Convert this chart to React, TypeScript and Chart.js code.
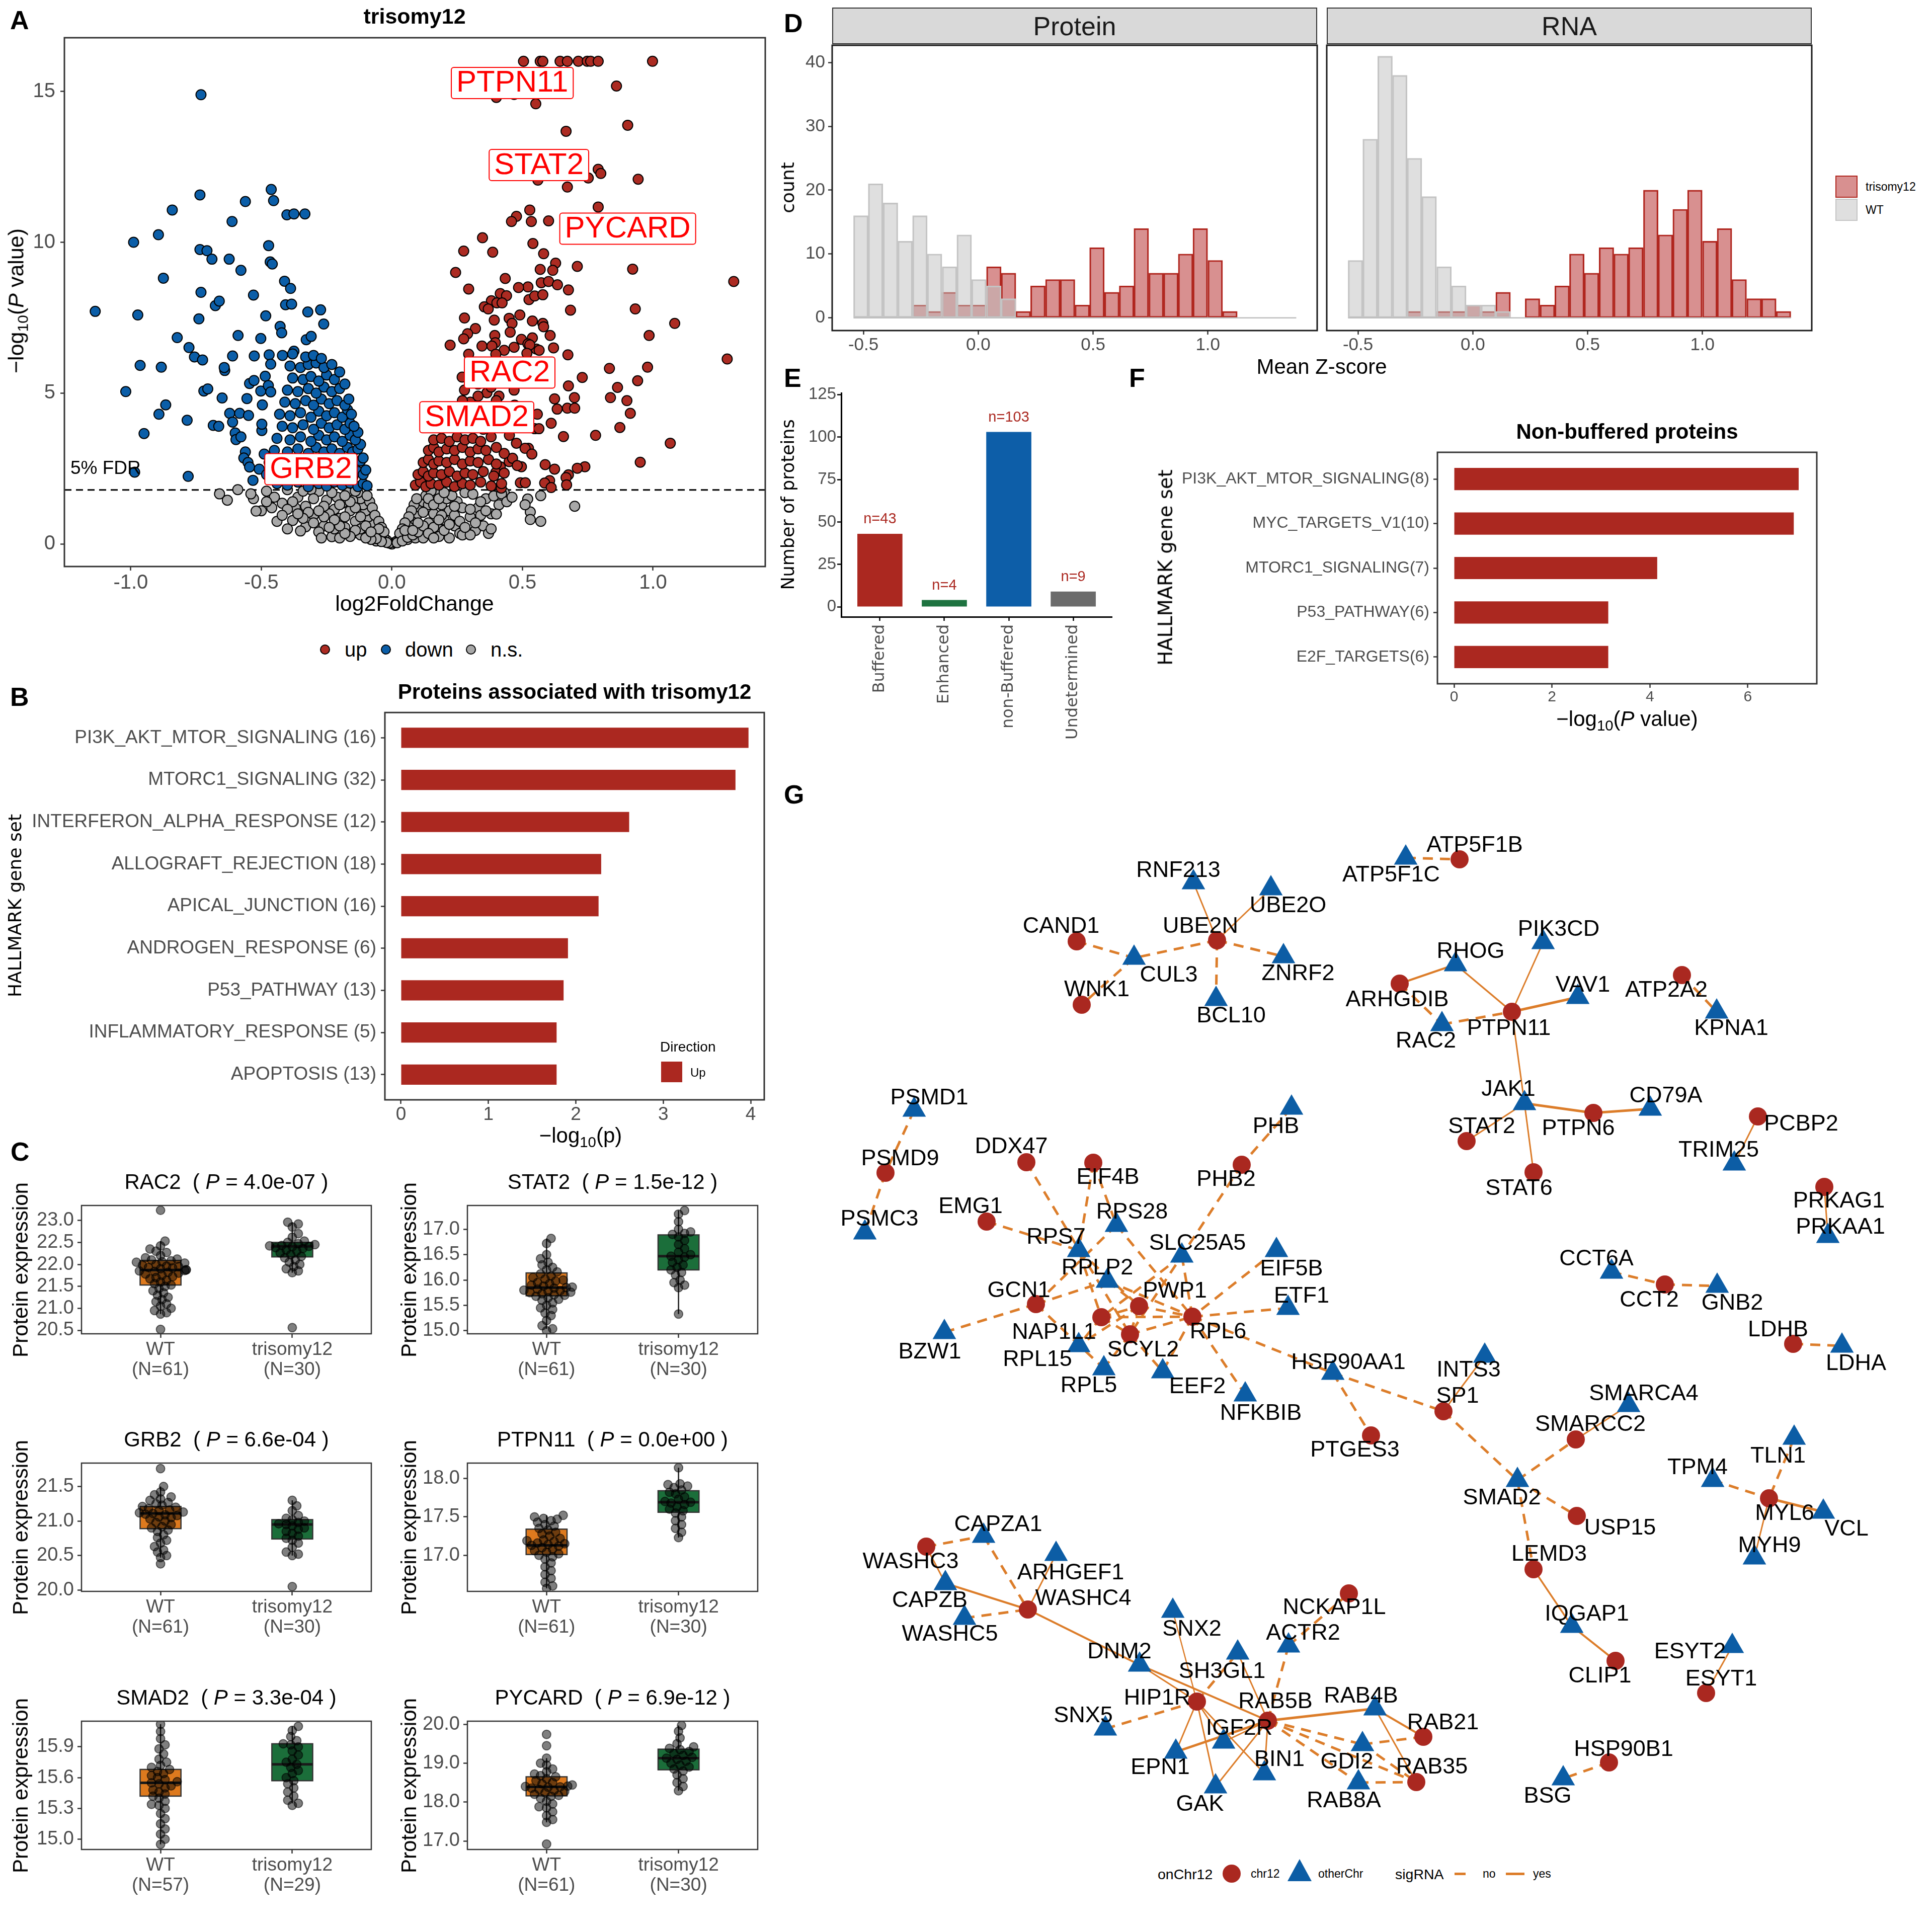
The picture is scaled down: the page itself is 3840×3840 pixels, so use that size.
import React, { useEffect, useRef } from "react";
import { Chart, registerables } from "chart.js";

Chart.register(...registerables);

// ---------------- fonts & colours ----------------
const SANS = "'Liberation Sans', Arial, Helvetica, sans-serif";
const DEJA = "'DejaVu Sans', Verdana, sans-serif";
const C_RED = "#AC2B22";
const C_BLUE = "#0B5EA8";
const C_NS = "#A8A8A8";
const C_BAR = "#AB2820";
const C_NODE_RED = "#AA2820";
const C_NODE_BLUE = "#0C5DA5";
const C_EDGE = "#DC7D2A";
const C_TICK = "#4D4D4D";
const C_FRAME = "#333333";
const C_BOX_WT = "#DE7A1E";
const C_BOX_TRI = "#1B6E3A";

// ---------------- Panel A: volcano data ----------------
const volcanoUp: number[][] = [
  [0.504,16],[0.568,16],[0.578,16],[0.644,16],[0.672,16],[0.714,16],[0.748,16],[0.761,16],[0.79,16],[0.998,16],
  [0.86,15.18],[0.40,14.8],[0.468,14.9],[0.551,14.59],[0.667,13.68],[0.903,13.88],
  [0.79,12.42],[0.80,12.28],[0.752,12.13],[0.559,12.06],[0.943,12.09],[0.672,11.83],[0.79,11.17],
  [0.528,11.07],[0.477,10.86],[0.458,10.69],[0.534,10.69],[0.6,10.71],[0.347,10.15],
  [0.275,9.71],[0.386,9.67],[0.54,9.96],[0.581,9.62],[0.627,9.31],[0.616,9.07],[0.568,9.1],[0.71,9.2],[0.922,9.11],
  [0.244,9.0],[0.434,8.8],[0.572,8.66],[0.6,8.7],[0.634,8.59],[0.676,8.42],[0.521,8.52],[0.485,8.5],
  [0.294,8.45],[0.415,8.3],[0.439,8.23],[1.309,8.7],
  [0.381,8.06],[0.402,7.99],[0.422,7.99],[0.525,8.1],[0.547,8.22],[0.578,8.26],
  [0.354,7.86],[0.369,7.79],[0.684,7.75],[0.932,7.79],
  [0.278,7.49],[0.392,7.42],[0.449,7.48],[0.46,7.31],[0.49,7.59],[0.538,7.39],[0.578,7.31],[0.581,7.2],[1.083,7.31],
  [0.32,7.14],[0.29,6.97],[0.275,6.8],[0.394,6.91],[0.453,7.02],[0.606,6.91],[0.985,6.91],
  [0.396,6.67],[0.496,6.78],[0.538,6.83],[0.521,6.63],[0.468,6.52],
  [0.223,6.59],[0.345,6.56],[0.383,6.56],[0.43,6.42],[0.553,6.46],[0.619,6.5],[0.528,6.6],
  [0.294,6.29],[0.398,6.29],[0.517,6.32],[0.674,6.27],[0.564,6.42],
  [0.833,5.82],[0.979,5.86],[1.284,6.13],[0.729,5.52],[0.676,5.24],[0.941,5.41],
  [0.269,5.53],[0.278,5.1],[0.364,5.01],[0.468,5.1],
  [0.864,5.19],[0.837,4.85],[0.9,4.75],[0.699,4.85],[0.623,4.81],[0.672,4.5],[0.7,4.5],[0.633,4.47],[0.913,4.33],
  [0.557,4.3],[0.547,3.82],[0.563,3.82],[0.61,4.0],
  [0.873,3.86],[0.78,3.6],[0.657,3.56],[1.066,3.34],
  [0.477,3.34],[0.523,3.17],[0.51,3.17],[0.536,2.98],
  [0.951,2.71],[0.739,2.56],[0.71,2.51],[0.587,2.63],[0.623,2.48],[0.496,2.56],[0.449,2.73],[0.462,2.84],[0.415,2.56],[0.398,2.37],
  [0.676,2.29],[0.667,2.2],[0.604,2.1],[0.585,2.02],[0.669,1.96],[0.61,1.87],[0.492,2.03],[0.511,2.03],[0.419,1.85],
  [0.3,5.6],[0.33,5.3],[0.36,5.8],[0.38,5.2],[0.41,4.9],[0.44,5.4],[0.47,4.6],[0.5,4.3],[0.52,3.9],[0.45,3.6],[0.43,3.0],[0.48,2.6],
  [0.09,1.95],[0.11,2.05],[0.13,1.9],[0.15,2.0],[0.18,1.95],[0.21,2.05],[0.24,1.9],[0.27,2.0],[0.3,1.95],[0.34,2.05],[0.38,1.92],[0.42,2.0],
  [0.1,2.3],[0.12,2.4],[0.14,2.25],[0.16,2.35],[0.19,2.3],[0.22,2.4],[0.25,2.25],[0.28,2.35],[0.31,2.3],[0.35,2.4],[0.39,2.25],[0.43,2.35],
  [0.12,2.7],[0.14,2.8],[0.16,2.65],[0.18,2.75],[0.21,2.7],[0.24,2.8],[0.27,2.65],[0.3,2.75],[0.33,2.7],[0.37,2.8],[0.4,2.65],
  [0.14,3.1],[0.16,3.2],[0.18,3.05],[0.21,3.15],[0.24,3.1],[0.27,3.2],[0.3,3.05],[0.33,3.15],[0.36,3.1],[0.4,3.2],
  [0.16,3.45],[0.19,3.5],[0.22,3.4],[0.25,3.55],[0.28,3.45],[0.31,3.5],[0.34,3.4],[0.38,3.55],
  [0.2,3.85],[0.23,3.95],[0.27,3.85],[0.31,3.9],[0.35,3.8],
  [0.22,4.3],[0.26,4.5],[0.3,4.7],[0.35,4.4],[0.4,4.75],[0.42,4.2],[0.27,4.75],[0.33,4.9]
];
const volcanoDown: number[][] = [
  [-0.731,14.89],[-1.136,7.71],[-0.989,10.0],[-0.973,7.59],[-0.964,5.92],[-1.019,5.05],[-0.985,2.38],[-0.949,3.66],
  [-0.894,10.25],[-0.841,11.07],[-0.875,8.81],[-0.883,5.86],[-0.866,4.61],[-0.892,4.3],[-0.822,6.84],[-0.777,6.51],[-0.784,4.1],[-0.78,2.24],
  [-0.735,11.57],[-0.735,9.76],[-0.708,9.72],[-0.689,9.44],[-0.731,8.34],[-0.739,7.46],[-0.756,6.2],[-0.725,6.1],[-0.72,5.07],[-0.705,5.14],
  [-0.676,7.9],[-0.661,8.05],[-0.684,3.93],[-0.663,3.9],[-0.65,4.84],[-0.64,5.75],[-0.642,5.85],
  [-0.623,9.44],[-0.612,10.69],[-0.578,9.07],[-0.589,6.91],[-0.61,6.23],[-0.621,4.33],[-0.61,4.04],[-0.6,3.68],[-0.597,3.46],[-0.578,3.55],[-0.583,4.33],
  [-0.561,11.35],[-0.53,8.25],[-0.527,6.23],[-0.545,5.32],[-0.528,5.42],[-0.555,4.82],[-0.549,4.26],[-0.561,3.05],[-0.567,2.85],[-0.551,2.7],[-0.545,2.55],[-0.532,2.11],[-0.508,2.48],[-0.489,2.98],[-0.498,3.76],[-0.498,3.97],[-0.496,4.61],[-0.502,5.07],
  [-0.502,6.81],[-0.483,7.56],[-0.472,9.89],[-0.462,11.75],[-0.453,11.38],[-0.466,9.35],[-0.458,9.28],[-0.411,8.71],[-0.388,8.47],[-0.407,7.93],[-0.384,7.95],[-0.428,7.21],[-0.422,7.0],[-0.402,10.91],[-0.375,10.94],[-0.333,10.94],
  [-0.322,7.69],[-0.273,7.76],[-0.261,7.29],[-0.328,6.77],[-0.309,6.88],[-0.375,6.39],[-0.419,6.25],[-0.47,6.27],[-0.464,5.96],[-0.485,5.56],[-0.473,5.25],[-0.464,5.04],
  [-0.44,2.0],[-0.4,1.95],[-0.36,2.05],[-0.32,1.9],[-0.28,2.0],[-0.25,1.92],[-0.22,2.05],[-0.19,1.95],[-0.16,2.02],[-0.13,1.9],[-0.11,2.0],[-0.095,1.93],
  [-0.48,2.3],[-0.43,2.25],[-0.39,2.35],[-0.35,2.3],[-0.31,2.2],[-0.27,2.35],[-0.24,2.25],[-0.21,2.4],[-0.18,2.3],[-0.15,2.2],[-0.13,2.4],[-0.11,2.3],[-0.1,2.45],
  [-0.47,2.7],[-0.42,2.65],[-0.37,2.75],[-0.33,2.6],[-0.3,2.8],[-0.26,2.65],[-0.23,2.75],[-0.2,2.6],[-0.17,2.8],[-0.15,2.65],[-0.12,2.75],[-0.11,2.85],
  [-0.45,3.1],[-0.4,3.05],[-0.36,3.15],[-0.32,3.0],[-0.29,3.2],[-0.26,3.05],[-0.23,3.15],[-0.2,3.0],[-0.17,3.2],[-0.15,3.05],[-0.13,3.15],[-0.12,3.3],
  [-0.44,3.5],[-0.39,3.45],[-0.35,3.55],[-0.31,3.4],[-0.28,3.6],[-0.25,3.45],[-0.22,3.55],[-0.19,3.4],[-0.16,3.6],[-0.14,3.45],[-0.13,3.7],
  [-0.42,3.9],[-0.38,3.85],[-0.34,3.95],[-0.3,3.8],[-0.27,4.0],[-0.24,3.85],[-0.21,3.95],[-0.18,3.8],[-0.16,4.0],[-0.145,3.9],
  [-0.43,4.3],[-0.39,4.25],[-0.35,4.35],[-0.31,4.2],[-0.28,4.4],[-0.25,4.25],[-0.22,4.35],[-0.19,4.2],[-0.17,4.45],[-0.155,4.3],
  [-0.41,4.7],[-0.37,4.65],[-0.33,4.75],[-0.3,4.6],[-0.27,4.8],[-0.24,4.65],[-0.21,4.75],[-0.18,4.6],[-0.165,4.8],
  [-0.4,5.1],[-0.36,5.05],[-0.32,5.15],[-0.29,5.0],[-0.26,5.2],[-0.23,5.05],[-0.2,5.15],[-0.18,5.3],
  [-0.38,5.5],[-0.34,5.45],[-0.31,5.55],[-0.28,5.4],[-0.25,5.6],[-0.22,5.45],[-0.2,5.7],
  [-0.39,5.9],[-0.35,5.85],[-0.32,5.95],[-0.29,6.0],[-0.26,5.85],[-0.23,5.95],
  [-0.38,6.3],[-0.33,6.2],[-0.3,6.25],[-0.27,6.15]
];
const volcanoNS: number[][] = [
  [0,0],[0.01,0.05],[-0.01,0.03],[0.02,0.1],[-0.02,0.12],[0.03,0.15],[-0.03,0.2],[0.04,0.25],[-0.04,0.18],[0.05,0.3],[-0.05,0.35],[0.06,0.4],[-0.06,0.28],[0.07,0.55],[-0.07,0.5],[0.08,0.6],[-0.08,0.7],[0.09,0.8],[-0.09,0.9],[0.1,1.0],[-0.1,1.1],[0.11,1.2],[-0.11,1.3],[0.12,1.4],[-0.12,1.5],[0.13,1.6],[-0.13,1.7],[0.085,1.3],[0.095,1.5],[-0.085,1.4],[-0.095,1.6],[0.075,1.1],[-0.075,1.2],[0.065,0.9],[-0.065,0.95],[0.05,0.7],[-0.05,0.75],[0.04,0.5],[-0.04,0.55],[0.03,0.35],[-0.03,0.4],[0.06,0.15],[-0.06,0.1],[0.09,0.2],[-0.09,0.25],
  [0.15,0.3],[0.18,0.5],[0.2,0.8],[0.22,1.1],[0.25,1.4],[0.28,1.7],[0.16,1.0],[0.19,1.3],[0.14,0.7],[0.24,0.6],[0.3,0.9],[0.33,1.2],[0.36,1.5],[0.17,1.65],[0.21,1.5],[0.26,0.35],[0.32,0.45],[0.38,1.0],[0.41,1.3],[0.43,1.7],[0.12,0.2],[0.22,0.2],[0.27,0.3],[0.3,0.3],[0.35,0.6],[0.4,0.99],[0.52,1.49],[0.53,1.06],[0.53,0.81],[0.57,0.75],[0.57,1.6],[0.7,1.25],[0.39,1.59],[0.42,1.66],[0.51,1.3],[0.15,1.75],[0.19,0.95],[0.23,1.6],[0.27,1.2],[0.31,1.65],[0.34,0.95],[0.37,0.35],[0.14,1.3],[0.18,0.25],[0.16,0.55],
  [-0.15,0.35],[-0.18,0.55],[-0.2,0.85],[-0.23,0.24],[-0.22,1.15],[-0.25,1.45],[-0.28,1.75],[-0.16,1.1],[-0.19,1.35],[-0.14,0.75],[-0.26,0.6],[-0.3,0.95],[-0.33,1.25],[-0.36,1.55],[-0.17,1.7],[-0.21,1.55],[-0.28,0.4],[-0.33,0.57],[-0.35,0.43],[-0.38,0.78],[-0.42,1.35],[-0.44,0.75],[-0.46,1.2],[-0.5,1.1],[-0.53,1.5],[-0.54,1.66],[-0.59,1.8],[-0.63,1.45],[-0.66,1.66],[-0.52,1.09],[-0.48,1.75],[-0.4,1.8],[-0.31,1.8],[-0.12,0.3],[-0.2,0.2],[-0.27,0.2],[-0.4,0.5],[-0.24,1.0],[-0.3,1.5],[-0.15,1.45],[-0.18,0.9],[-0.22,0.5],[-0.14,1.75],[-0.26,1.25],[-0.34,1.75],[-0.45,1.55],[-0.37,1.2],
  [-0.02,0.05],[0.02,0.04],[-0.04,0.08],[0.04,0.1],[-0.06,0.18],[0.06,0.22],[-0.08,0.15],[0.08,0.3],[-0.1,0.2],[0.1,0.4],[-0.12,0.5],[0.12,0.6],[-0.14,0.45],[0.14,0.35],[-0.16,0.25],[0.16,0.2],[-0.18,0.35],[0.18,0.8],[-0.2,0.6],[0.2,0.45],[-0.22,0.8],[0.22,0.65],[-0.24,0.55],[0.24,0.95],[-0.26,0.9],[0.26,0.75],[-0.28,1.1],[0.28,0.55],[-0.3,0.7],[0.3,1.15],[-0.32,1.05],[0.32,0.7],[-0.34,0.85],[0.34,1.4],[-0.36,1.0],[0.36,1.1],[-0.38,1.4],[0.38,0.5],[-0.4,1.15],[0.44,1.4],[-0.42,0.95],[0.46,1.55],[-0.48,1.4],[-0.1,0.6],[0.1,0.7],[-0.12,0.9],[0.12,1.05],[-0.14,1.2],[0.14,1.5],[-0.16,1.4],[0.16,1.3],[-0.18,1.6],[0.18,1.5],[-0.2,1.3],[0.2,1.7],[-0.23,1.7],[0.24,1.25],[-0.05,0.5],[0.05,0.45],[-0.08,0.4],[0.08,0.45]
];
const volcanoLabels = ["PTPN11", "STAT2", "PYCARD", "RAC2", "SMAD2", "GRB2"];
const volcanoLabelX = [0.461, 0.563, 0.903, 0.451, 0.325, -0.31];
const volcanoLabelY = [15.28, 12.56, 10.45, 5.68, 4.2, 2.48];
const fdrLine = 1.79;
const volcanoXTicks = [-1, -0.5, 0, 0.5, 1];
const volcanoYTicks = [0, 5, 10, 15];

// ---------------- Panel B ----------------
const hallmarkSets = [
  "PI3K_AKT_MTOR_SIGNALING (16)", "MTORC1_SIGNALING (32)", "INTERFERON_ALPHA_RESPONSE (12)",
  "ALLOGRAFT_REJECTION (18)", "APICAL_JUNCTION (16)", "ANDROGEN_RESPONSE (6)",
  "P53_PATHWAY (13)", "INFLAMMATORY_RESPONSE (5)", "APOPTOSIS (13)"
];
const hallmarkValues = [3.975, 3.826, 2.61, 2.29, 2.26, 1.91, 1.86, 1.78, 1.78];
const hallmarkTicks = [0, 1, 2, 3, 4];

// ---------------- Panel C ----------------
const boxGenes = ["RAC2", "STAT2", "GRB2", "PTPN11", "SMAD2", "PYCARD"];
const boxPText = ["4.0e-07", "1.5e-12", "6.6e-04", "0.0e+00", "3.3e-04", "6.9e-12"];
const boxNWT = [61, 61, 61, 61, 57, 61];
const boxNTri = [30, 30, 30, 30, 29, 30];
// [q1, median, q3, whiskerLow, whiskerHigh]
const boxStatsWT = [
  [21.53, 21.87, 22.09, 20.87, 22.53], [15.69, 15.85, 16.14, 15.04, 16.82], [20.89, 21.11, 21.21, 20.47, 21.5],
  [17.01, 17.13, 17.34, 16.57, 17.52], [15.42, 15.55, 15.68, 14.95, 16.12], [18.16, 18.39, 18.65, 17.48, 19.13]
];
const boxStatsTri = [
  [22.17, 22.41, 22.5, 21.81, 22.96], [16.2, 16.47, 16.89, 15.33, 17.37], [20.74, 20.95, 21.02, 20.5, 21.3],
  [17.56, 17.69, 17.84, 17.23, 18.14], [15.57, 15.73, 15.93, 15.35, 16.1], [18.83, 19.13, 19.36, 18.29, 19.97]
];
const boxPointsWT = [
  [23.23,22.53,22.42,22.35,22.3,22.27,22.2,22.15,22.12,22.1,22.08,22.06,22.05,22.03,22.0,21.98,21.96,21.95,21.93,21.92,21.9,21.88,21.87,21.86,21.85,21.84,21.82,21.8,21.78,21.75,21.72,21.7,21.67,21.64,21.6,21.56,21.53,21.5,21.45,21.4,21.35,21.3,21.25,21.2,21.15,21.1,21.05,21.0,20.95,20.9,20.87,20.52],
  [16.82,16.72,16.5,16.42,16.35,16.3,16.25,16.2,16.16,16.12,16.08,16.05,16.02,16.0,15.98,15.95,15.93,15.9,15.88,15.86,15.85,15.84,15.82,15.8,15.79,15.78,15.76,15.75,15.73,15.71,15.7,15.68,15.65,15.62,15.6,15.55,15.5,15.45,15.42,15.35,15.3,15.2,15.1,15.04,15.0],
  [21.76,21.5,21.42,21.38,21.35,21.32,21.3,21.27,21.25,21.23,21.21,21.2,21.18,21.16,21.15,21.13,21.12,21.11,21.1,21.09,21.08,21.06,21.05,21.03,21.0,20.98,20.95,20.92,20.9,20.87,20.85,20.8,20.76,20.72,20.68,20.63,20.58,20.55,20.5,20.47,20.38],
  [17.52,17.5,17.48,17.47,17.45,17.43,17.4,17.38,17.35,17.33,17.3,17.28,17.25,17.22,17.2,17.19,17.18,17.16,17.15,17.14,17.13,17.12,17.1,17.08,17.06,17.04,17.02,17.0,16.98,16.95,16.9,16.85,16.8,16.75,16.7,16.65,16.6,16.57],
  [16.12,16.05,15.98,15.92,15.88,15.83,15.78,15.75,15.72,15.7,15.68,15.66,15.64,15.62,15.6,15.58,15.56,15.55,15.54,15.52,15.5,15.48,15.46,15.44,15.42,15.4,15.37,15.34,15.33,15.3,15.25,15.2,15.15,15.1,15.05,15.0,14.95],
  [19.74,19.45,19.13,19.0,18.95,18.85,18.78,18.72,18.68,18.65,18.6,18.55,18.5,18.47,18.44,18.41,18.4,18.39,18.38,18.36,18.33,18.3,18.27,18.24,18.2,18.17,18.15,18.1,18.02,17.95,17.88,17.85,17.75,17.65,17.55,17.48,16.92]
];
const boxPointsTri = [
  [22.96,22.92,22.85,22.7,22.62,22.53,22.5,22.47,22.45,22.43,22.42,22.41,22.4,22.38,22.36,22.33,22.3,22.26,22.22,22.18,22.15,22.1,22.05,22.0,21.95,21.9,21.85,21.81,20.56],
  [17.37,17.3,17.15,17.0,16.95,16.92,16.9,16.85,16.78,16.7,16.62,16.55,16.5,16.47,16.45,16.4,16.35,16.3,16.25,16.2,16.15,16.1,16.0,15.95,15.9,15.85,15.33],
  [21.3,21.22,21.15,21.08,21.04,21.02,21.0,20.98,20.96,20.95,20.93,20.9,20.88,20.85,20.82,20.78,20.75,20.72,20.68,20.62,20.55,20.52,20.5,20.05],
  [18.14,17.93,17.92,17.9,17.88,17.85,17.82,17.8,17.76,17.73,17.7,17.69,17.68,17.66,17.63,17.6,17.58,17.55,17.5,17.45,17.4,17.35,17.3,17.23],
  [16.1,16.06,16.0,15.96,15.93,15.92,15.9,15.86,15.82,15.78,15.75,15.73,15.7,15.67,15.64,15.6,15.57,15.54,15.5,15.46,15.42,15.38,15.35,15.33],
  [19.97,19.82,19.65,19.5,19.42,19.38,19.35,19.3,19.25,19.2,19.15,19.13,19.1,19.05,19.0,18.95,18.9,18.85,18.8,18.7,18.6,18.5,18.4,18.29]
];
const boxYLimits = [[20.42, 23.34], [14.94, 17.47], [19.98, 21.84], [16.53, 18.2], [14.9, 16.15], [16.78, 20.08]];
const boxYTicks = [
  [20.5, 21, 21.5, 22, 22.5, 23], [15, 15.5, 16, 16.5, 17], [20, 20.5, 21, 21.5],
  [17, 17.5, 18], [15, 15.3, 15.6, 15.9], [17, 18, 19, 20]
];

// ---------------- Panel D ----------------
const binCenters = [-0.511,-0.447,-0.382,-0.318,-0.254,-0.190,-0.125,-0.061,0.003,0.068,0.132,0.196,0.260,0.325,0.389,0.453,0.517,0.582,0.646,0.710,0.775,0.839,0.903,0.967,1.032,1.096,1.160,1.225,1.289,1.353];
const protWT = [16,21,18,12,16,10,8,13,6,5,3,0,0,0,0,0,0,0,0,0,0,0,0,0,0,0,0,0,0,0];
const protTri = [0,0,0,0,2,1,4,2,2,8,7,1,5,6,6,2,11,4,5,14,7,7,10,14,9,1,0,0,0,0];
const rnaWT = [9,28,41,38,25,19,8,5,2,2,1,0,0,0,0,0,0,0,0,0,0,0,0,0,0,0,0,0,0,0];
const rnaTri = [0,0,0,0,1,0,1,1,2,1,4,0,3,2,5,10,7,11,10,11,20,13,17,20,12,14,6,3,3,1];
const histXTicks = [-0.5, 0, 0.5, 1];
const histYTicks = [0, 10, 20, 30, 40];

// ---------------- Panel E ----------------
const bufferCats = ["Buffered", "Enhanced", "non-Buffered", "Undetermined"];
const bufferCounts = [43, 4, 103, 9];
const bufferColors = ["#AB2820", "#1E7340", "#0D5EA8", "#6B6B6B"];
const bufferTicks = [0, 25, 50, 75, 100, 125];

// ---------------- Panel F ----------------
const nbSets = ["PI3K_AKT_MTOR_SIGNALING(8)", "MYC_TARGETS_V1(10)", "MTORC1_SIGNALING(7)", "P53_PATHWAY(6)", "E2F_TARGETS(6)"];
const nbValues = [7.04, 6.94, 4.15, 3.15, 3.15];
const nbTicks = [0, 2, 4, 6];

// ---------------- Panel G: network (layout coordinates, chr12 flag) ----------------
const netNodes: any[] = [
  ["ATP5F1C",0,2794,1705,2765,1740],["ATP5F1B",1,2901,1708,2931,1681],["RNF213",0,2372,1754,2342,1731],
  ["UBE2O",0,2526,1766,2560,1801],["UBE2N",1,2419,1869,2386,1842],["CAND1",1,2140,1871,2109,1842],
  ["CUL3",0,2254,1904,2323,1939],["ZNRF2",0,2551,1901,2580,1936],["WNK1",1,2150,1997,2180,1968],
  ["BCL10",0,2417,1986,2447,2020],["PIK3CD",0,3067,1873,3098,1848],["RHOG",0,2893,1917,2923,1892],
  ["ARHGDIB",1,2782,1955,2777,1988],["VAV1",0,3136,1982,3146,1959],["PTPN11",1,3005,2011,2999,2045],
  ["RAC2",0,2866,2036,2834,2070],["ATP2A2",1,3343,1938,3312,1969],["KPNA1",0,3412,2011,3441,2045],
  ["JAK1",0,3030,2193,2998,2166],["STAT2",1,2915,2268,2945,2240],["PTPN6",1,3167,2212,3137,2244],
  ["CD79A",0,3280,2204,3311,2179],["STAT6",1,3048,2330,3019,2363],["PCBP2",1,3494,2219,3580,2235],
  ["TRIM25",0,3447,2313,3416,2287],["PRKAG1",1,3626,2359,3655,2388],["PRKAA1",0,3633,2457,3658,2440],
  ["CCT6A",0,3203,2528,3173,2503],["CCT2",1,3309,2553,3278,2585],["GNB2",0,3413,2556,3443,2591],
  ["LDHB",1,3564,2671,3534,2644],["LDHA",0,3661,2675,3689,2711],["PSMD1",0,1817,2206,1847,2183],
  ["PSMD9",1,1760,2331,1789,2304],["PSMC3",0,1719,2450,1748,2424],["DDX47",1,2040,2310,2010,2280],
  ["EIF4B",1,2173,2311,2202,2341],["PHB",0,2567,2202,2536,2240],["PHB2",1,2468,2315,2437,2345],
  ["EMG1",1,1961,2428,1929,2399],["RPS28",0,2219,2435,2250,2410],["RPS7",0,2144,2485,2099,2460],
  ["SLC25A5",0,2349,2496,2380,2472],["RPLP2",0,2201,2546,2181,2521],["EIF5B",0,2537,2485,2567,2523],
  ["GCN1",1,2059,2592,2025,2566],["PWP1",1,2264,2596,2335,2567],["ETF1",0,2560,2600,2587,2577],
  ["NAP1L1",1,2189,2618,2095,2649],["RPL6",1,2370,2617,2421,2648],["SCYL2",1,2246,2652,2272,2684],
  ["BZW1",0,1877,2648,1848,2688],["RPL15",0,2144,2674,2062,2703],["RPL5",0,2194,2720,2164,2755],
  ["EEF2",0,2311,2726,2380,2757],["NFKBIB",0,2475,2772,2506,2810],["HSP90AA1",0,2649,2729,2680,2709],
  ["INTS3",0,2951,2695,2919,2724],["SP1",1,2869,2805,2897,2776],["PTGES3",1,2725,2853,2693,2883],
  ["SMARCA4",0,3237,2793,3267,2771],["SMARCC2",1,3132,2861,3161,2832],["SMAD2",0,3016,2942,2985,2978],
  ["USP15",1,3134,3013,3220,3038],["LEMD3",1,3048,3119,3079,3090],["IQGAP1",0,3124,3232,3154,3209],
  ["CLIP1",1,3211,3301,3180,3332],["TLN1",0,3566,2858,3534,2895],["TPM4",0,3404,2942,3374,2918],
  ["MYL6",1,3516,2978,3547,3009],["VCL",0,3624,3005,3670,3040],["MYH9",0,3487,3096,3517,3073],
  ["ESYT2",0,3443,3272,3359,3284],["ESYT1",1,3391,3365,3421,3338],["HSP90B1",1,3198,3503,3227,3478],
  ["BSG",0,3107,3535,3076,3571],["CAPZA1",0,1955,3053,1984,3031],["WASHC3",1,1841,3074,1810,3105],
  ["ARHGEF1",0,2099,3089,2128,3127],["CAPZB",0,1879,3147,1848,3182],["WASHC4",1,2043,3199,2153,3178],
  ["WASHC5",0,1917,3216,1888,3249],["DNM2",0,2265,3309,2225,3284],["SNX2",0,2331,3202,2369,3239],
  ["ACTR2",0,2561,3271,2590,3247],["NCKAP1L",1,2681,3167,2652,3196],["SH3GL1",0,2460,3285,2429,3323],
  ["HIP1R",1,2379,3382,2300,3376],["RAB5B",1,2520,3420,2535,3383],["RAB4B",0,2733,3396,2705,3372],
  ["SNX5",0,2197,3436,2153,3411],["IGF2R",0,2432,3462,2463,3436],["RAB21",1,2829,3452,2868,3425],
  ["GDI2",0,2708,3467,2677,3503],["EPN1",0,2337,3482,2306,3514],["BIN1",0,2513,3525,2543,3498],
  ["RAB35",1,2815,3542,2846,3513],["RAB8A",0,2700,3543,2671,3580],["GAK",0,2416,3551,2385,3587]
];
// [from, to, sigRNA (1 = yes), strength]
const netEdges: any[] = [
  ["RNF213","UBE2N",1,3],["UBE2O","UBE2N",1,3],["UBE2N","CUL3",0,5],["CAND1","CUL3",0,5],["UBE2N","ZNRF2",0,5],
  ["UBE2N","BCL10",0,5],["CUL3","WNK1",0,5],["ATP5F1C","ATP5F1B",0,6],
  ["RHOG","PTPN11",1,3.5],["ARHGDIB","RHOG",1,4],["PIK3CD","PTPN11",1,3],["VAV1","PTPN11",1,5],["RAC2","PTPN11",0,5],
  ["ARHGDIB","RAC2",0,5],["PTPN11","JAK1",1,3],["ATP2A2","KPNA1",0,5],["JAK1","STAT2",1,3],["JAK1","PTPN6",1,5],
  ["PTPN6","CD79A",1,5],["JAK1","STAT6",1,3],["PCBP2","TRIM25",1,3],["PRKAG1","PRKAA1",1,3],["CCT6A","CCT2",0,5],
  ["CCT2","GNB2",0,5],["LDHB","LDHA",0,6],["PSMD1","PSMD9",0,5],["PSMD9","PSMC3",0,5],["PHB","PHB2",0,5],
  ["DDX47","SCYL2",0,5],["EIF4B","RPS7",0,5],["EIF4B","RPS28",0,5],["PHB2","SCYL2",0,5],["EMG1","RPS7",0,5],
  ["RPS7","PWP1",0,5],["RPS28","RPL6",0,5],["RPS28","GCN1",0,5],["SLC25A5","NAP1L1",0,5],["SLC25A5","RPL6",0,5],
  ["EIF5B","RPL6",0,5],["ETF1","RPL6",0,5],["RPL6","HSP90AA1",0,5],["RPL6","NFKBIB",0,5],["RPL6","EEF2",0,5],
  ["GCN1","BZW1",0,5],["GCN1","RPLP2",0,5],["GCN1","RPL5",0,5],["RPLP2","PWP1",0,5],["RPLP2","RPL6",0,5],
  ["NAP1L1","PWP1",0,5],["NAP1L1","RPL6",0,5],["NAP1L1","SCYL2",0,5],["PWP1","SCYL2",0,5],["PWP1","RPL6",0,5],
  ["SCYL2","RPL6",0,5],["NAP1L1","RPL15",0,5],["SCYL2","RPL5",0,5],["SCYL2","EEF2",0,5],["PWP1","RPL15",0,5],
  ["RPS7","NAP1L1",0,5],["HSP90AA1","SP1",0,5],["HSP90AA1","PTGES3",0,5],["INTS3","SP1",1,3],["SP1","SMAD2",0,5],
  ["SMAD2","SMARCC2",0,5],["SMARCC2","SMARCA4",1,3],["SMAD2","USP15",0,5],["SMAD2","LEMD3",0,5],["LEMD3","IQGAP1",1,3.5],
  ["IQGAP1","CLIP1",1,4],["TPM4","MYL6",0,5],["TLN1","MYL6",0,5],["MYL6","VCL",1,5],["MYL6","MYH9",1,3],
  ["ESYT2","ESYT1",1,3],["HSP90B1","BSG",0,6],["WASHC3","CAPZA1",0,5],["WASHC3","CAPZB",1,3],["CAPZA1","WASHC4",0,5],
  ["ARHGEF1","WASHC4",1,3],["CAPZB","WASHC4",1,4],["WASHC5","WASHC4",0,6],["WASHC4","DNM2",1,4],["DNM2","RAB5B",1,4],
  ["DNM2","HIP1R",1,3],["HIP1R","SNX2",1,2.5],["HIP1R","SH3GL1",0,5],["HIP1R","SNX5",0,5],["HIP1R","EPN1",1,3],
  ["HIP1R","GAK",1,3],["HIP1R","BIN1",1,3],["HIP1R","IGF2R",1,3],["RAB5B","SH3GL1",1,3],["RAB5B","ACTR2",0,5],
  ["ACTR2","NCKAP1L",0,5],["RAB5B","RAB4B",1,5],["RAB5B","EPN1",1,4.5],["RAB5B","GAK",1,3],["RAB5B","BIN1",1,3],
  ["RAB5B","GDI2",0,5],["RAB5B","RAB35",0,5],["RAB5B","RAB8A",0,5],["RAB4B","RAB21",1,4],["RAB4B","RAB35",1,3],
  ["GDI2","RAB21",0,5],["RAB8A","RAB35",0,5],["GDI2","RAB35",0,5],["RAB5B","IGF2R",1,3]
];

// ---------------- layout (page pixels) ----------------
type Box = { x: number; y: number; w: number; h: number };
type Mar = { l: number; t: number; r: number; b: number };
const canvasOf = (p: Box, m: Mar): Box => ({ x: p.x - m.l, y: p.y - m.t, w: p.w + m.l + m.r, h: p.h + m.t + m.b });

const PLOT_A: Box = { x: 128, y: 71, w: 1393, h: 1055 };
const MAR_A: Mar = { l: 110, t: 30, r: 30, b: 70 };
const PLOT_B: Box = { x: 765, y: 1415, w: 754, h: 771 };
const MAR_B: Mar = { l: 760, t: 30, r: 30, b: 60 };
const PLOT_C: Box[] = [
  { x: 162, y: 2396, w: 576, h: 255 }, { x: 929, y: 2396, w: 577, h: 255 },
  { x: 162, y: 2908, w: 576, h: 255 }, { x: 929, y: 2908, w: 577, h: 255 },
  { x: 162, y: 3421, w: 576, h: 255 }, { x: 929, y: 3421, w: 577, h: 255 }
];
const MAR_C: Mar = { l: 125, t: 30, r: 30, b: 100 };
const PLOT_D1: Box = { x: 1654, y: 90, w: 964, h: 567 };
const MAR_D1: Mar = { l: 95, t: 30, r: 15, b: 60 };
const PLOT_D2: Box = { x: 2637, y: 90, w: 964, h: 567 };
const MAR_D2: Mar = { l: 15, t: 30, r: 30, b: 60 };
const PLOT_E: Box = { x: 1672, y: 781, w: 538, h: 445 };
const MAR_E: Mar = { l: 100, t: 30, r: 30, b: 260 };
const PLOT_F: Box = { x: 2857, y: 899, w: 754, h: 460 };
const MAR_F: Mar = { l: 560, t: 30, r: 30, b: 60 };
const BOX_G: Box = { x: 1560, y: 1620, w: 2250, h: 2040 };

// ---------------- chart helpers ----------------
function baseOptions(padding: any) {
  return {
    responsive: false,
    animation: false,
    events: [],
    layout: { padding, autoPadding: false },
    plugins: { legend: { display: false }, tooltip: { enabled: false }, title: { display: false } },
  };
}

function linAxis(o: any) {
  const shown = o.show !== false;
  return {
    type: "linear",
    display: shown,
    min: o.min,
    max: o.max,
    reverse: !!o.reverse,
    bounds: "data",
    offset: false,
    afterBuildTicks: (s: any) => { s.ticks = o.ticks.map((v: number) => ({ value: v })); },
    afterFit: (s: any) => {
      if (!shown) return;
      if (o.horizontal) s.height = o.fit; else s.width = o.fit;
    },
    grid: {
      display: true, drawOnChartArea: false, drawTicks: true, offset: false,
      tickLength: 8, tickWidth: 2.5, tickColor: o.tickColor || "#333333", color: "rgba(0,0,0,0)",
    },
    border: o.border ? { display: true, color: o.border.color, width: o.border.width } : { display: false },
    ticks: {
      autoSkip: false,
      padding: o.pad,
      color: o.color || C_TICK,
      font: { family: o.family || SANS, size: o.size, lineHeight: o.lineHeight || 1.2 },
      callback: (v: number) => o.fmt(v),
      minRotation: o.rotate ? 90 : 0,
      maxRotation: o.rotate ? 90 : 0,
    },
  };
}

const framePlugin = (color: string, width: number) => ({
  id: "frame",
  afterDraw(chart: any) {
    const { ctx, chartArea: a } = chart;
    ctx.save();
    ctx.strokeStyle = color;
    ctx.lineWidth = width;
    ctx.strokeRect(a.left, a.top, a.right - a.left, a.bottom - a.top);
    ctx.restore();
  },
});

function ChartCanvas({ box, make }: { box: Box; make: () => any }) {
  const ref = useRef<HTMLCanvasElement>(null);
  useEffect(() => {
    const chart = new Chart(ref.current as HTMLCanvasElement, make());
    return () => chart.destroy();
  }, []);
  return (
    <canvas
      ref={ref}
      width={box.w}
      height={box.h}
      style={{ position: "absolute", left: box.x, top: box.y, width: box.w, height: box.h }}
    />
  );
}

// ---------------- text helpers ----------------
function Txt(props: any) {
  const { x, y, size, anchor = "start", weight = 400, color = "#000", family = SANS, rotate = false, children } = props;
  const base: React.CSSProperties = {
    position: "absolute", fontSize: size, lineHeight: `${size}px`, fontFamily: family,
    fontWeight: weight, color, whiteSpace: "nowrap",
  };
  if (rotate) {
    return <div style={{ ...base, left: x, top: y, transform: "translate(-50%,-50%) rotate(-90deg)" }}>{children}</div>;
  }
  const tx = anchor === "middle" ? "translateX(-50%)" : anchor === "end" ? "translateX(-100%)" : "none";
  return <div style={{ ...base, left: x, top: y - 0.846 * size, transform: tx }}>{children}</div>;
}
const Sub = ({ children }: any) => (
  <span style={{ fontSize: "0.7em", position: "relative", top: "0.3em" }}>{children}</span>
);

// ---------------- Panel A ----------------
const scatterDs = (pts: number[][], color: string) => ({
  data: pts.map((p) => ({ x: p[0], y: p[1] })),
  pointRadius: 10, pointHoverRadius: 10,
  pointBackgroundColor: color, pointBorderColor: "#000000", pointBorderWidth: 2,
});

const volcanoPlugin = {
  id: "volcanoExtras",
  beforeDatasetsDraw(chart: any) {
    const { ctx, chartArea: a, scales } = chart;
    const py = scales.y.getPixelForValue(fdrLine);
    ctx.save();
    ctx.strokeStyle = "#000";
    ctx.lineWidth = 3;
    ctx.setLineDash([14, 9]);
    ctx.beginPath();
    ctx.moveTo(a.left, py);
    ctx.lineTo(a.right, py);
    ctx.stroke();
    ctx.restore();
  },
  afterDatasetsDraw(chart: any) {
    const { ctx, scales } = chart;
    ctx.save();
    ctx.font = `60px ${SANS}`;
    ctx.textAlign = "center";
    ctx.textBaseline = "middle";
    volcanoLabels.forEach((t, i) => {
      const cx = scales.x.getPixelForValue(volcanoLabelX[i]);
      const cy = scales.y.getPixelForValue(volcanoLabelY[i]);
      const w = ctx.measureText(t).width + 20;
      const h = 62;
      ctx.beginPath();
      ctx.roundRect(cx - w / 2, cy - h / 2, w, h, 5);
      ctx.fillStyle = "#ffffff";
      ctx.fill();
      ctx.lineWidth = 2;
      ctx.strokeStyle = "#FF0000";
      ctx.stroke();
      ctx.fillStyle = "#FF0000";
      ctx.fillText(t, cx, cy + 1);
    });
    ctx.restore();
  },
};

function volcanoConfig() {
  const m = MAR_A;
  return {
    type: "scatter",
    data: { datasets: [scatterDs(volcanoUp, C_RED), scatterDs(volcanoDown, C_BLUE), scatterDs(volcanoNS, C_NS)] },
    options: {
      ...baseOptions({ left: 0, top: m.t, right: m.r, bottom: 0 }),
      scales: {
        x: linAxis({ min: -1.254, max: 1.4297, ticks: volcanoXTicks, fmt: (v: number) => v.toFixed(1), size: 40, pad: 1, fit: m.b, horizontal: true }),
        y: linAxis({ min: -0.748, max: 16.78, ticks: volcanoYTicks, fmt: (v: number) => String(v), size: 40, pad: 10, fit: m.l }),
      },
    },
    plugins: [volcanoPlugin, framePlugin(C_FRAME, 3)],
  };
}

// ---------------- Panel B / F ----------------
function hbarConfig(labels: string[], values: number[], ticks: number[], xr: number[], m: Mar, barPct: number, sizes: any) {
  return {
    type: "bar",
    data: {
      datasets: [{
        data: values.map((v, i) => ({ x: v, y: i + 1 })),
        backgroundColor: C_BAR, barPercentage: barPct, categoryPercentage: 1, borderWidth: 0,
      }],
    },
    options: {
      ...baseOptions({ left: 0, top: m.t, right: m.r, bottom: 0 }),
      indexAxis: "y",
      scales: {
        x: linAxis({ min: xr[0], max: xr[1], ticks, fmt: (v: number) => String(v), size: sizes.x, pad: sizes.xpad, fit: m.b, horizontal: true }),
        y: linAxis({
          min: 0.4, max: labels.length + 0.6, reverse: true, ticks: labels.map((_, i) => i + 1),
          fmt: (v: number) => labels[Math.round(v) - 1], size: sizes.y, pad: sizes.ypad, fit: m.l,
        }),
      },
    },
    plugins: [framePlugin(C_FRAME, 3)],
  };
}

// ---------------- Panel C ----------------
function swarm(values: number[], pxPerY: number, pxPerX: number, r: number): number[] {
  const order = values.map((_, i) => i).sort((a, b) => values[a] - values[b]);
  const placed: { x: number; y: number }[] = [];
  const out = values.map(() => 0);
  const d = 2 * r * 0.72;
  for (const i of order) {
    const y = values[i] * pxPerY;
    let chosen = 0;
    for (let k = 0; k < 34; k++) {
      const off = (k % 2 === 1 ? 1 : -1) * Math.ceil(k / 2) * 3;
      chosen = off;
      if (placed.every((p) => Math.hypot(p.x - off, p.y - y) >= d)) break;
    }
    placed.push({ x: chosen, y });
    out[i] = chosen / pxPerX;
  }
  return out;
}

const boxPlugin = (gi: number) => ({
  id: "boxes",
  beforeDatasetsDraw(chart: any) {
    const { ctx, scales } = chart;
    const xs = scales.x, ys = scales.y;
    [boxStatsWT[gi], boxStatsTri[gi]].forEach((s, g) => {
      const [q1, med, q3, lo, hi] = s;
      const cx = xs.getPixelForValue(g + 1);
      const hw = xs.getPixelForValue(g + 1 + 0.155) - cx;
      const p = (v: number) => ys.getPixelForValue(v);
      ctx.save();
      ctx.strokeStyle = "#1A1A1A";
      ctx.lineWidth = 2.5;
      ctx.beginPath();
      ctx.moveTo(cx, p(q3)); ctx.lineTo(cx, p(hi));
      ctx.moveTo(cx, p(q1)); ctx.lineTo(cx, p(lo));
      ctx.stroke();
      ctx.fillStyle = g === 0 ? C_BOX_WT : C_BOX_TRI;
      ctx.fillRect(cx - hw, p(q3), 2 * hw, p(q1) - p(q3));
      ctx.strokeStyle = "#333333";
      ctx.strokeRect(cx - hw, p(q3), 2 * hw, p(q1) - p(q3));
      ctx.strokeStyle = "#1A1A1A";
      ctx.lineWidth = 5;
      ctx.beginPath();
      ctx.moveTo(cx - hw, p(med)); ctx.lineTo(cx + hw, p(med));
      ctx.stroke();
      ctx.restore();
    });
  },
});

function boxConfig(gi: number) {
  const rect = PLOT_C[gi];
  const m = MAR_C;
  const [ymin, ymax] = boxYLimits[gi];
  const pxX = rect.w / 2.2;
  const pxY = rect.h / (ymax - ymin);
  const offW = swarm(boxPointsWT[gi], pxY, pxX, 8.5);
  const offT = swarm(boxPointsTri[gi], pxY, pxX, 8.5);
  const pts = [
    ...boxPointsWT[gi].map((v, i) => ({ x: 1 + offW[i], y: v })),
    ...boxPointsTri[gi].map((v, i) => ({ x: 2 + offT[i], y: v })),
  ];
  return {
    type: "scatter",
    data: {
      datasets: [{
        data: pts, pointRadius: 8.5, pointHoverRadius: 8.5,
        pointBackgroundColor: "rgba(0,0,0,0.5)", pointBorderColor: "rgba(0,0,0,0.55)", pointBorderWidth: 2,
      }],
    },
    options: {
      ...baseOptions({ left: 0, top: m.t, right: m.r, bottom: 0 }),
      scales: {
        x: linAxis({
          min: 0.4, max: 2.6, ticks: [1, 2],
          fmt: (v: number) => (Math.round(v) === 1 ? ["WT", `(N=${boxNWT[gi]})`] : ["trisomy12", `(N=${boxNTri[gi]})`]),
          size: 37, lineHeight: 1.1, pad: 3, fit: m.b, horizontal: true,
        }),
        y: linAxis({ min: ymin, max: ymax, ticks: boxYTicks[gi], fmt: (v: number) => v.toFixed(1), size: 38, pad: 7, fit: m.l }),
      },
    },
    plugins: [boxPlugin(gi), framePlugin(C_FRAME, 2.5)],
  };
}

// ---------------- Panel D ----------------
const histBaseline = {
  id: "histBaseline",
  afterDatasetsDraw(chart: any) {
    const { ctx, scales } = chart;
    const hw = (binCenters[1] - binCenters[0]) / 2;
    const y0 = scales.y.getPixelForValue(0);
    ctx.save();
    ctx.strokeStyle = "#BEBEBE";
    ctx.lineWidth = 2.5;
    ctx.beginPath();
    ctx.moveTo(scales.x.getPixelForValue(binCenters[0] - hw), y0);
    ctx.lineTo(scales.x.getPixelForValue(binCenters[binCenters.length - 1] + hw), y0);
    ctx.stroke();
    ctx.restore();
  },
};

function histConfig(wt: number[], tri: number[], m: Mar, showY: boolean) {
  const mk = (arr: number[]) => binCenters.map((c, i) => ({ x: c, y: arr[i] }));
  return {
    type: "bar",
    data: {
      datasets: [
        { data: mk(wt), backgroundColor: "rgba(191,191,191,0.5)", borderColor: "#C4C4C4", borderWidth: 2.5, borderSkipped: false, grouped: false, barPercentage: 1, categoryPercentage: 1 },
        { data: mk(tri), backgroundColor: "rgba(178,34,34,0.5)", borderColor: "#B0261E", borderWidth: 2.5, borderSkipped: false, grouped: false, barPercentage: 1, categoryPercentage: 1 },
      ],
    },
    options: {
      ...baseOptions({ left: showY ? 0 : m.l, top: m.t, right: m.r, bottom: 0 }),
      scales: {
        x: linAxis({ min: -0.636, max: 1.476, ticks: histXTicks, fmt: (v: number) => v.toFixed(1), size: 35, pad: 0, fit: m.b, horizontal: true }),
        y: linAxis({ show: showY, min: -2.0, max: 42.7, ticks: histYTicks, fmt: (v: number) => String(v), size: 35, pad: 6, fit: m.l }),
      },
    },
    plugins: [histBaseline, framePlugin("#1A1A1A", 3)],
  };
}

// ---------------- Panel E ----------------
const nLabelPlugin = {
  id: "nLabels",
  afterDatasetsDraw(chart: any) {
    const { ctx, scales } = chart;
    ctx.save();
    ctx.font = `29px ${SANS}`;
    ctx.fillStyle = C_BAR;
    ctx.textAlign = "center";
    ctx.textBaseline = "middle";
    bufferCounts.forEach((v, i) => {
      ctx.fillText(`n=${v}`, scales.x.getPixelForValue(i + 1), scales.y.getPixelForValue(v + 8.6));
    });
    ctx.restore();
  },
};

function bufferConfig() {
  const m = MAR_E;
  return {
    type: "bar",
    data: {
      datasets: [{
        data: bufferCounts.map((v, i) => ({ x: i + 1, y: v })),
        backgroundColor: bufferColors, barPercentage: 0.7, categoryPercentage: 1, borderWidth: 0,
      }],
    },
    options: {
      ...baseOptions({ left: 0, top: m.t, right: m.r, bottom: 0 }),
      scales: {
        x: linAxis({
          min: 0.4, max: 4.6, ticks: [1, 2, 3, 4], fmt: (v: number) => bufferCats[Math.round(v) - 1],
          size: 32, family: DEJA, rotate: true, pad: 7, fit: m.b, horizontal: true,
          border: { color: "#000000", width: 3 }, tickColor: "#000000",
        }),
        y: linAxis({
          min: -5.9, max: 126, ticks: bufferTicks, fmt: (v: number) => String(v), size: 33, pad: 2, fit: m.l,
          border: { color: "#000000", width: 3 }, tickColor: "#000000",
        }),
      },
    },
    plugins: [nLabelPlugin],
  };
}

// ---------------- Panel G ----------------
const netPlugin = {
  id: "network",
  beforeDatasetsDraw(chart: any) {
    const { ctx, scales } = chart;
    const pos: any = {};
    netNodes.forEach((n) => { pos[n[0]] = [n[2], n[3]]; });
    ctx.save();
    ctx.strokeStyle = C_EDGE;
    ctx.lineCap = "butt";
    netEdges.forEach((e) => {
      const p = pos[e[0]], q = pos[e[1]];
      if (!p || !q) return;
      ctx.lineWidth = e[2] ? e[3] : 5;
      ctx.setLineDash(e[2] ? [] : [20, 14]);
      ctx.beginPath();
      ctx.moveTo(scales.x.getPixelForValue(p[0]), scales.y.getPixelForValue(p[1]));
      ctx.lineTo(scales.x.getPixelForValue(q[0]), scales.y.getPixelForValue(q[1]));
      ctx.stroke();
    });
    ctx.restore();
  },
  afterDatasetsDraw(chart: any) {
    const { ctx, scales } = chart;
    ctx.save();
    ctx.font = `45px ${SANS}`;
    ctx.fillStyle = "#000";
    ctx.textAlign = "center";
    ctx.textBaseline = "middle";
    netNodes.forEach((n) => {
      ctx.fillText(n[0], scales.x.getPixelForValue(n[4]), scales.y.getPixelForValue(n[5]));
    });
    ctx.restore();
  },
};

function networkConfig() {
  const b = BOX_G;
  const circles = netNodes.filter((n) => n[1] === 1).map((n) => ({ x: n[2], y: n[3] }));
  const tris = netNodes.filter((n) => n[1] === 0).map((n) => ({ x: n[2], y: n[3] }));
  return {
    type: "scatter",
    data: {
      datasets: [
        { data: circles, pointStyle: "circle", pointRadius: 18, pointHoverRadius: 18, pointBackgroundColor: C_NODE_RED, pointBorderWidth: 0 },
        { data: tris, pointStyle: "triangle", pointRadius: 27, pointHoverRadius: 27, pointBackgroundColor: C_NODE_BLUE, pointBorderWidth: 0 },
      ],
    },
    options: {
      ...baseOptions({ left: 0, top: 0, right: 0, bottom: 0 }),
      scales: {
        x: { type: "linear", display: false, min: b.x, max: b.x + b.w, bounds: "data" },
        y: { type: "linear", display: false, min: b.y, max: b.y + b.h, reverse: true, bounds: "data" },
      },
    },
    plugins: [netPlugin],
  };
}

// ---------------- App ----------------
const Dot = ({ x, y, r, color, border }: any) => (
  <div style={{
    position: "absolute", left: x - r, top: y - r, width: 2 * r, height: 2 * r, borderRadius: "50%",
    background: color, border: border || "none", boxSizing: "border-box",
  }} />
);

export default function App() {
  const plotCenterY = (p: Box) => p.y + p.h / 2;
  return (
    <div style={{ position: "absolute", left: 0, top: 0, width: 3840, height: 3840, background: "#ffffff", overflow: "hidden", fontFamily: SANS }}>
      {/* ---------- Panel A ---------- */}
      <ChartCanvas box={canvasOf(PLOT_A, MAR_A)} make={volcanoConfig} />
      <Txt x={20} y={58} size={52} weight={700}>A</Txt>
      <Txt x={824} y={47} size={43} weight={700} anchor="middle">trisomy12</Txt>
      <Txt x={34} y={598} size={43} rotate>−log<Sub>10</Sub>(<i>P</i> value)</Txt>
      <Txt x={824} y={1214} size={43} anchor="middle">log2FoldChange</Txt>
      <Txt x={140} y={942} size={37}>5% FDR</Txt>
      <Dot x={646} y={1291} r={10} color={C_RED} border="2px solid #000" />
      <Txt x={685} y={1305} size={40}>up</Txt>
      <Dot x={767} y={1291} r={10} color={C_BLUE} border="2px solid #000" />
      <Txt x={805} y={1305} size={40}>down</Txt>
      <Dot x={936} y={1291} r={10} color={C_NS} border="2px solid #000" />
      <Txt x={975} y={1305} size={40}>n.s.</Txt>

      {/* ---------- Panel B ---------- */}
      <ChartCanvas box={canvasOf(PLOT_B, MAR_B)} make={() => hbarConfig(hallmarkSets, hallmarkValues, hallmarkTicks, [-0.184, 4.155], MAR_B, 0.48, { x: 37, xpad: 0, y: 37, ypad: 9 })} />
      <Txt x={20} y={1403} size={52} weight={700}>B</Txt>
      <Txt x={1142} y={1390} size={42} weight={700} anchor="middle">Proteins associated with trisomy12</Txt>
      <Txt x={30} y={1800} size={36} family={DEJA} rotate>HALLMARK gene set</Txt>
      <Txt x={1154} y={2272} size={42} anchor="middle">−log<Sub>10</Sub>(p)</Txt>
      <Txt x={1312} y={2091} size={28}>Direction</Txt>
      <div style={{ position: "absolute", left: 1314, top: 2110, width: 42, height: 41, background: C_BAR }} />
      <Txt x={1372} y={2140} size={24}>Up</Txt>

      {/* ---------- Panel C ---------- */}
      <Txt x={21} y={2307} size={52} weight={700}>C</Txt>
      {boxGenes.map((g, i) => {
        const p = PLOT_C[i];
        return (
          <React.Fragment key={g}>
            <ChartCanvas box={canvasOf(p, MAR_C)} make={() => boxConfig(i)} />
            <Txt x={p.x + p.w / 2} y={p.y - 32} size={42} anchor="middle">
              {g}{"\u00a0\u00a0"}({"\u00a0"}<i>P</i>{"\u00a0"}={"\u00a0"}{boxPText[i]}{"\u00a0"})
            </Txt>
            <Txt x={i % 2 === 0 ? 41 : 813} y={plotCenterY(p)} size={42} rotate>Protein expression</Txt>
          </React.Fragment>
        );
      })}

      {/* ---------- Panel D ---------- */}
      <ChartCanvas box={canvasOf(PLOT_D1, MAR_D1)} make={() => histConfig(protWT, protTri, MAR_D1, true)} />
      <ChartCanvas box={canvasOf(PLOT_D2, MAR_D2)} make={() => histConfig(rnaWT, rnaTri, MAR_D2, false)} />
      <div style={{ position: "absolute", left: 1654, top: 15, width: 964, height: 73, background: "#D9D9D9", border: "2px solid #333", boxSizing: "border-box" }} />
      <div style={{ position: "absolute", left: 2637, top: 15, width: 964, height: 73, background: "#D9D9D9", border: "2px solid #333", boxSizing: "border-box" }} />
      <Txt x={2136} y={70} size={52} anchor="middle" color="#1A1A1A">Protein</Txt>
      <Txt x={3119} y={70} size={52} anchor="middle" color="#1A1A1A">RNA</Txt>
      <Txt x={1558} y={64} size={52} weight={700}>D</Txt>
      <Txt x={1566} y={373} size={36} family={DEJA} rotate>count</Txt>
      <Txt x={2627} y={744} size={42} anchor="middle">Mean Z-score</Txt>
      <div style={{ position: "absolute", left: 3648, top: 349, width: 44, height: 44, background: "rgba(178,34,34,0.5)", border: "2.5px solid #B0261E", boxSizing: "border-box" }} />
      <div style={{ position: "absolute", left: 3648, top: 395, width: 44, height: 44, background: "rgba(191,191,191,0.5)", border: "2.5px solid #C4C4C4", boxSizing: "border-box" }} />
      <Txt x={3708} y={379} size={23}>trisomy12</Txt>
      <Txt x={3708} y={425} size={23}>WT</Txt>

      {/* ---------- Panel E ---------- */}
      <ChartCanvas box={canvasOf(PLOT_E, MAR_E)} make={bufferConfig} />
      <Txt x={1558} y={769} size={52} weight={700}>E</Txt>
      <Txt x={1566} y={1003} size={35} family={DEJA} rotate>Number of proteins</Txt>

      {/* ---------- Panel F ---------- */}
      <ChartCanvas box={canvasOf(PLOT_F, MAR_F)} make={() => hbarConfig(nbSets, nbValues, nbTicks, [-0.34, 7.41], MAR_F, 0.5, { x: 30, xpad: 1, y: 32, ypad: 8 })} />
      <Txt x={2244} y={769} size={52} weight={700}>F</Txt>
      <Txt x={3234} y={873} size={42} weight={700} anchor="middle">Non-buffered proteins</Txt>
      <Txt x={2317} y={1128} size={38.5} family={DEJA} rotate>HALLMARK gene set</Txt>
      <Txt x={3234} y={1444} size={42} anchor="middle">−log<Sub>10</Sub>(<i>P</i> value)</Txt>

      {/* ---------- Panel G ---------- */}
      <ChartCanvas box={BOX_G} make={networkConfig} />
      <Txt x={1558} y={1597} size={52} weight={700}>G</Txt>
      <Txt x={2301} y={3735} size={28.5}>onChr12</Txt>
      <Dot x={2448} y={3724} r={18} color={C_NODE_RED} />
      <Txt x={2486} y={3732} size={23}>chr12</Txt>
      <svg style={{ position: "absolute", left: 2550, top: 3690, width: 70, height: 60 }} width={70} height={60}>
        <polygon points="33,5 9,49 57,49" fill={C_NODE_BLUE} />
      </svg>
      <Txt x={2620} y={3732} size={23}>otherChr</Txt>
      <Txt x={2773} y={3735} size={28.5}>sigRNA</Txt>
      <div style={{ position: "absolute", left: 2891, top: 3721.5, width: 22, height: 5, background: C_EDGE }} />
      <Txt x={2947} y={3732} size={23}>no</Txt>
      <div style={{ position: "absolute", left: 2993, top: 3721.5, width: 37, height: 5, background: C_EDGE }} />
      <Txt x={3047} y={3732} size={23}>yes</Txt>
    </div>
  );
}
